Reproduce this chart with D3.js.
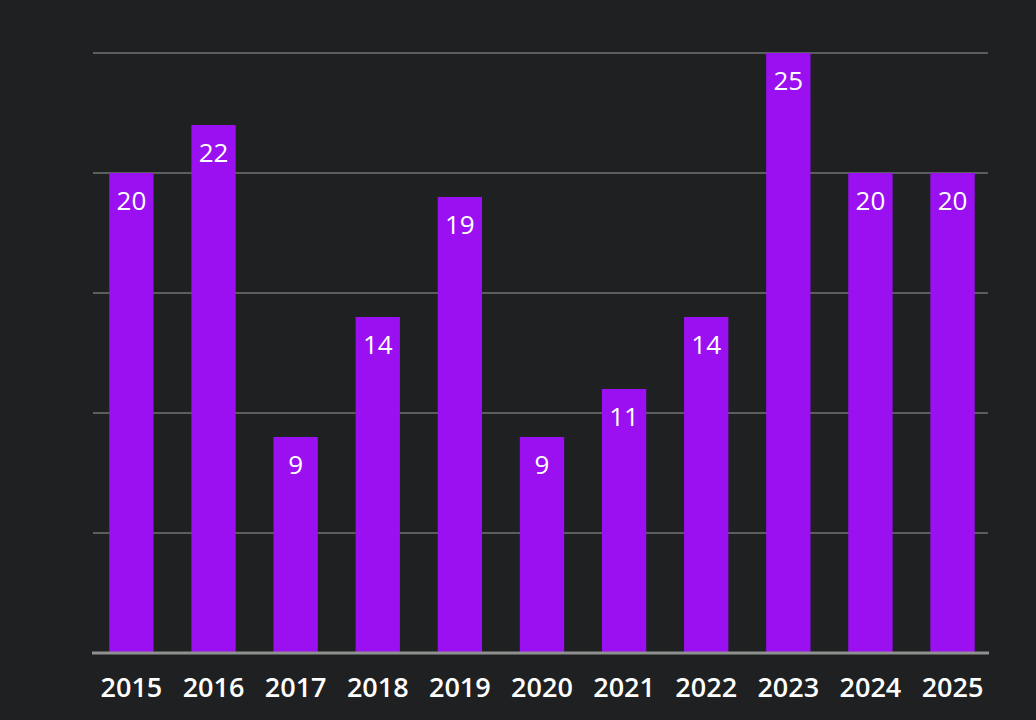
<!DOCTYPE html>
<html>
<head>
<meta charset="utf-8">
<script src="https://cdn.jsdelivr.net/npm/d3@7"></script>
<style>
  html, body { margin: 0; padding: 0; background: #1e2021; }
</style>
</head>
<body>
<div id="chart"></div>
<script>
// data
const years = ["2015", "2016", "2017", "2018", "2019", "2020", "2021", "2022", "2023", "2024", "2025"];
const counts = [20, 22, 9, 14, 19, 9, 11, 14, 25, 20, 20];
const gridTicks = [0, 5, 10, 15, 20, 25];

const width = 1036;
const height = 720;

const marginTop = 53;
const marginBottom = 67;
const marginLeft = 93;
const marginRight = 48;

const chartWidth = width - marginLeft - marginRight;
const chartHeight = height - marginTop - marginBottom;

const svg = d3.select('#chart').append('svg')
  .attr('width', width)
  .attr('height', height)
  .style('background', '#1e2021');

const chart = svg.append('g')
  .attr('transform', `translate(${marginLeft}, ${marginTop})`);

const x = d3.scaleBand()
  .domain(years)
  .range([0, chartWidth])
  .paddingInner(0.46)
  .paddingOuter(0.18)
  .align(0.55);

const y = d3.scaleLinear()
  .domain([0, 25])
  .range([chartHeight, 0]);

// gridlines
chart.append('g')
  .selectAll('line')
  .data(gridTicks.slice(1))
  .enter().append('line')
  .attr('x1', 0)
  .attr('x2', chartWidth)
  .attr('y1', d => y(d))
  .attr('y2', d => y(d))
  .attr('stroke', '#5c5e5e')
  .attr('stroke-width', 2);

// bars
chart.selectAll('.bar')
  .data(counts)
  .enter().append('rect')
  .attr('class', 'bar')
  .attr('x', (d, i) => x(years[i]))
  .attr('width', x.bandwidth())
  .attr('y', d => y(d))
  .attr('height', d => chartHeight - y(d))
  .attr('fill', '#9a10f0');

// value labels
chart.selectAll('.val')
  .data(counts)
  .enter().append('text')
  .attr('class', 'val')
  .attr('x', (d, i) => x(years[i]) + x.bandwidth() / 2)
  .attr('y', d => y(d) + 37)
  .attr('text-anchor', 'middle')
  .attr('fill', '#ffffff')
  .style('font-family', '"Open Sans", sans-serif')
  .style('font-size', '26px')
  .text(d => d);

// x axis
const xAxis = chart.append('g')
  .attr('transform', `translate(0, ${chartHeight})`)
  .call(d3.axisBottom(x).tickSize(0).tickPadding(0));

xAxis.select('.domain')
  .attr('stroke', '#8f9090')
  .attr('stroke-width', 3)
  .attr('d', `M-1,0H${chartWidth + 1}`);

xAxis.selectAll('.tick text')
  .attr('y', 44)
  .attr('dy', 0)
  .attr('fill', '#ffffff')
  .style('font-family', '"Open Sans", sans-serif')
  .style('font-weight', '600')
  .style('font-size', '27px');
</script>
</body>
</html>
